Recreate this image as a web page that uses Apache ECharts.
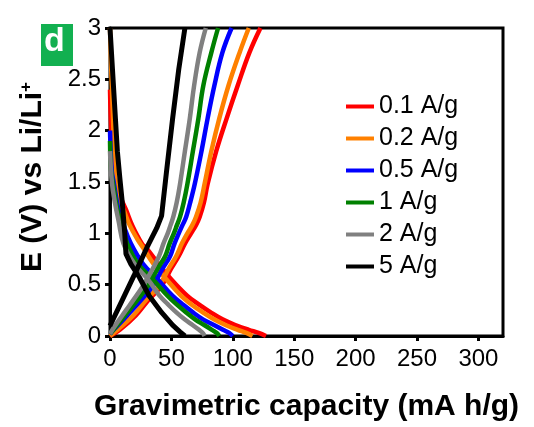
<!DOCTYPE html>
<html>
<head>
<meta charset="utf-8">
<script src="https://cdn.jsdelivr.net/npm/echarts@6/dist/echarts.min.js"></script>
<style>html,body{margin:0;padding:0;background:#fff}#c{width:534px;height:427px}</style>
</head>
<body>
<div id="c"></div>
<script>
const rateNames = ['0.1 A/g', '0.2 A/g', '0.5 A/g', '1 A/g', '2 A/g', '5 A/g'];
const rateColors = ['#ff0000', '#ff8000', '#0000ff', '#008000', '#808080', '#000000'];

// discharge curves [capacity, voltage]
const dis01 = [[0,2.4],[1,2.0],[3,1.6],[7,1.4],[13,1.23],[18,1.08],[26,0.9],[30,0.85],[39,0.71],[50,0.55],[63,0.39],[72,0.31],[82,0.23],[92,0.16],[102.6,0.105],[113,0.06],[121,0.03],[127,0]];
const dis02 = [[0,3.0],[1,2.6],[2.5,2.1],[4.6,1.5],[8,1.3],[11,1.23],[16,1.08],[23,0.93],[27,0.86],[35,0.71],[46,0.55],[58,0.39],[66,0.31],[75.6,0.23],[85,0.16],[94.5,0.105],[104,0.06],[111,0.03],[116,0]];
const dis05 = [[0,2.0],[1.5,1.6],[3,1.5],[5,1.35],[7,1.23],[11,1.08],[17,0.9],[27,0.7],[39,0.55],[51,0.39],[59,0.31],[67.5,0.23],[76,0.16],[85,0.105],[92,0.06],[97,0.03],[100,0]];
const dis1 = [[0,1.9],[1,1.6],[3,1.45],[6,1.23],[10,1.08],[14,0.9],[23,0.7],[35,0.55],[47,0.39],[54,0.31],[62,0.23],[69.5,0.16],[77,0.105],[83,0.06],[87,0.03],[89,0]];
const dis2 = [[0,1.8],[1.5,1.5],[4,1.3],[7,1.12],[11,0.9],[20,0.7],[31,0.55],[40.5,0.39],[47,0.31],[54,0.23],[61,0.16],[67.5,0.105],[72.5,0.06],[75.5,0.03],[77,0]];
const dis5 = [[0,3.0],[2,2.6],[4,2.2],[6,1.8],[8,1.54],[10,1.3],[12,1.0],[13,0.8],[17,0.7],[24,0.57],[32,0.39],[42,0.23],[51,0.105],[57,0.04],[61,0]];

// charge curves [capacity, voltage]
const chg01 = [[0,0.0],[8,0.06],[21,0.2],[32,0.36],[42,0.49],[50,0.66],[56,0.78],[61,0.9],[66,1.0],[70,1.08],[73,1.16],[76.5,1.3],[79.5,1.48],[86.5,1.8],[95,2.12],[104,2.44],[113.5,2.76],[122.5,3.0]];
const chg02 = [[0,0.0],[6,0.06],[19,0.2],[30,0.36],[40,0.49],[48,0.66],[54,0.78],[58.5,0.9],[63,1.0],[67,1.08],[70,1.16],[73.8,1.3],[77,1.48],[82.5,1.8],[89,2.12],[96.5,2.44],[105.5,2.76],[113,3.0]];
const chg05 = [[0,0.02],[3,0.06],[14,0.2],[26,0.36],[35,0.49],[43,0.66],[49,0.78],[52.5,0.9],[56,1.0],[59,1.08],[62,1.16],[65.3,1.3],[69,1.48],[74.5,1.8],[79.5,2.12],[85,2.44],[91.5,2.76],[99,3.0]];
const chg1 = [[0,0.02],[4,0.08],[12,0.2],[19,0.3],[31,0.49],[39,0.66],[45,0.78],[48.5,0.9],[52,1.0],[54.5,1.08],[57,1.16],[60,1.3],[63,1.48],[67.5,1.8],[72,2.12],[76,2.44],[82.5,2.76],[88,3.0]];
const chg2 = [[0,0.02],[3,0.08],[10,0.2],[16,0.3],[27,0.49],[35,0.66],[40,0.78],[43.5,0.9],[47,1.0],[49.3,1.08],[51.5,1.16],[54.3,1.3],[57,1.48],[61,1.8],[65,2.12],[68.5,2.44],[73,2.76],[78,3.0]];
const chg5 = [[0,0.1],[10,0.35],[20,0.6],[30,0.86],[38,1.05],[42,1.17],[46,1.6],[51,2.12],[56,2.6],[61,3.0]];

const xTicks = ['0','50','100','150','200','250','300'];
const yTicks = ['0','0.5','1','1.5','2','2.5','3'];

const discharge = [dis01, dis02, dis05, dis1, dis2, dis5];
const charge = [chg01, chg02, chg05, chg1, chg2, chg5];

const FONT = 'Liberation Sans, Arial, sans-serif';
const series = [];
rateNames.forEach((name, i) => {
  [discharge[i], charge[i]].forEach(d => {
    series.push({
      name: name, type: 'line', data: d, showSymbol: false, symbol: 'none',
      smooth: i === 5 ? false : 0.4,
      lineStyle: { color: rateColors[i], width: i === 5 ? 5 : 4.5 },
      itemStyle: { color: rateColors[i] },
      z: 2 + i, animation: false
    });
  });
});

const chart = echarts.init(document.getElementById('c'), null, { renderer: 'canvas' });
chart.setOption({
  animation: false,
  backgroundColor: '#fff',
  grid: { left: 110, right: 31, top: 28, bottom: 86, show: true, borderColor: '#000', borderWidth: 3, containLabel: false },
  legend: {
    orient: 'vertical', left: 346, top: 94, padding: 0, icon: 'rect', itemWidth: 28, itemHeight: 4, itemGap: 7,
    data: rateNames,
    textStyle: { fontFamily: FONT, fontSize: 25, color: '#000', lineHeight: 25 }
  },
  xAxis: {
    type: 'value', min: 0, max: 320, interval: 50,
    name: 'Gravimetric capacity (mA h/g)', nameLocation: 'middle', nameGap: 56,
    nameTextStyle: { fontFamily: FONT, fontSize: 30, fontWeight: 'bold', color: '#000' },
    axisLine: { show: true, lineStyle: { color: '#000', width: 3 } },
    axisTick: { show: true, inside: false, length: 5, lineStyle: { color: '#000', width: 3 } },
    axisLabel: { fontFamily: FONT, fontSize: 24, color: '#000', margin: 11, showMaxLabel: false,
      formatter: v => xTicks.includes(String(v)) ? String(v) : '' },
    splitLine: { show: false }
  },
  yAxis: {
    type: 'value', min: 0, max: 3, interval: 0.5,
    axisLine: { show: true, lineStyle: { color: '#000', width: 3 } },
    axisTick: { show: true, inside: false, length: 5, lineStyle: { color: '#000', width: 3 } },
    axisLabel: { fontFamily: FONT, fontSize: 24, color: '#000', margin: 9,
      formatter: v => yTicks.includes(String(v)) ? String(v) : '' },
    splitLine: { show: false }
  },
  graphic: [
    { type: 'rect', left: 41, top: 24, shape: { width: 32, height: 42 }, style: { fill: '#12b050' }, z: 10 },
    { type: 'text', left: 44, top: 25, style: { text: 'd', fill: '#fff', font: 'bold 34px ' + FONT }, z: 11 },
    { type: 'text', x: 33, y: 177, rotation: Math.PI / 2, style: {
        text: 'E (V) vs Li/Li{sup|+}', fill: '#000', font: 'bold 30px ' + FONT,
        align: 'center', verticalAlign: 'middle',
        rich: { sup: { fontSize: 17, fontWeight: 'bold', fontFamily: FONT, verticalAlign: 'top' } }
      }, z: 10 }
  ],
  series: series
});
</script>
</body>
</html>
